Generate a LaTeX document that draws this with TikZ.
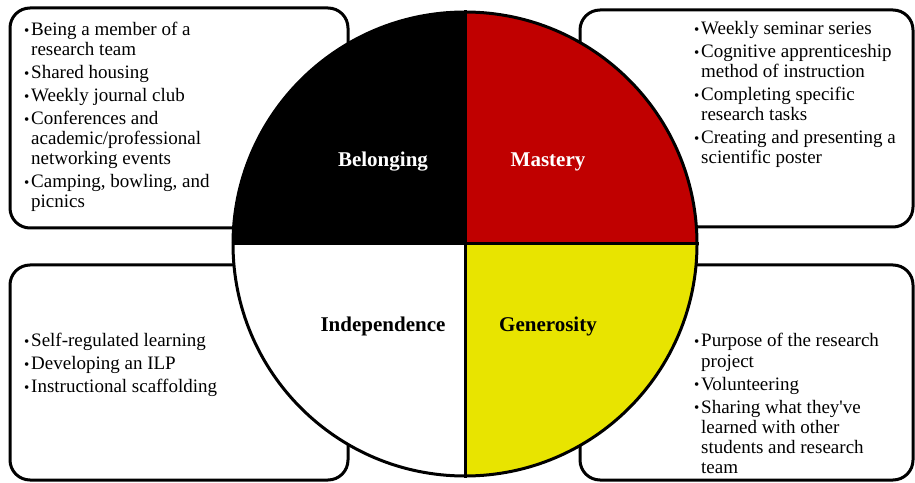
\documentclass[tikz,border=0pt]{standalone}
\usepackage{fontspec}
\setmainfont{Liberation Serif}
\definecolor{mred}{RGB}{192,0,0}
\definecolor{myel}{RGB}{232,228,0}
\newcommand{\bl}{\makebox[7pt][l]{\raisebox{0.8pt}{\fontsize{15}{15}\selectfont\textbullet}}}
\begin{document}
\begin{tikzpicture}[x=1pt,y=1pt,
  box/.style={draw=black, line width=3pt, rounded corners=20pt, fill=white},
  items/.style={anchor=base west, inner sep=0pt, font=\fontsize{19}{20}\selectfont, align=left},
  lab/.style={anchor=base, inner sep=0pt, font=\fontsize{21}{21}\selectfont\bfseries}]
\useasboundingbox (0,0) rectangle (915,482);
% boxes
\draw[box] (10,254) rectangle (348,474);
\draw[box] (580,255) rectangle (913,472);
\draw[box] (10,2) rectangle (348,217);
\draw[box] (580,2) rectangle (913,217);
% wheel
\coordinate (c) at (465,238);
\fill[black] (c) -- ++(180:232) arc[start angle=180,end angle=90,radius=232] -- cycle;
\fill[mred] (c) -- ++(90:232) arc[start angle=90,end angle=0,radius=232] -- cycle;
\fill[myel] (c) -- ++(0:232) arc[start angle=0,end angle=-90,radius=232] -- cycle;
\fill[white] (c) -- ++(-90:232) arc[start angle=-90,end angle=-180,radius=232] -- cycle;
\node[circle, draw=black, line width=3pt, minimum size=464pt, inner sep=0pt] (wheel) at (c) {};
\draw[line width=3pt] (wheel.north) -- (wheel.south);
\draw[line width=3pt] (wheel.west) -- (wheel.east);
% labels
\node[lab, text=white] (belonging) at (383,315) {Belonging};
\node[lab, text=white] (mastery) at (548,315) {Mastery};
\node[lab, text=black] (independence) at (383,150) {Independence};
\node[lab, text=black] (generosity) at (548,150) {Generosity};
% lists
\node[items] (tl) at (24,446) {\begin{tabular}[t]{@{}l@{}l@{}}
\bl & Being a member of a\\
 & research team\\[3pt]
\bl & Shared housing\\[3pt]
\bl & Weekly journal club\\[3pt]
\bl & Conferences and\\
 & academic/professional\\
 & networking events\\[3pt]
\bl & Camping, bowling, and\\
 & picnics
\end{tabular}};
\node[items] (tr) at (694,447) {\begin{tabular}[t]{@{}l@{}l@{}}
\bl & Weekly seminar series\\[3pt]
\bl & Cognitive apprenticeship\\
 & method of instruction\\[3pt]
\bl & Completing specific\\
 & research tasks\\[3pt]
\bl & Creating and presenting a\\
 & scientific poster
\end{tabular}};
\node[items] (bl) at (24,135) {\begin{tabular}[t]{@{}l@{}l@{}}
\bl & Self-regulated learning\\[3pt]
\bl & Developing an ILP\\[3pt]
\bl & Instructional scaffolding
\end{tabular}};
\node[items] (br) at (694,135) {\begin{tabular}[t]{@{}l@{}l@{}}
\bl & Purpose of the research\\
 & project\\[3pt]
\bl & Volunteering\\[3pt]
\bl & Sharing what they\textquotesingle ve\\
 & learned with other\\
 & students and research\\
 & team
\end{tabular}};
\end{tikzpicture}
\end{document}
